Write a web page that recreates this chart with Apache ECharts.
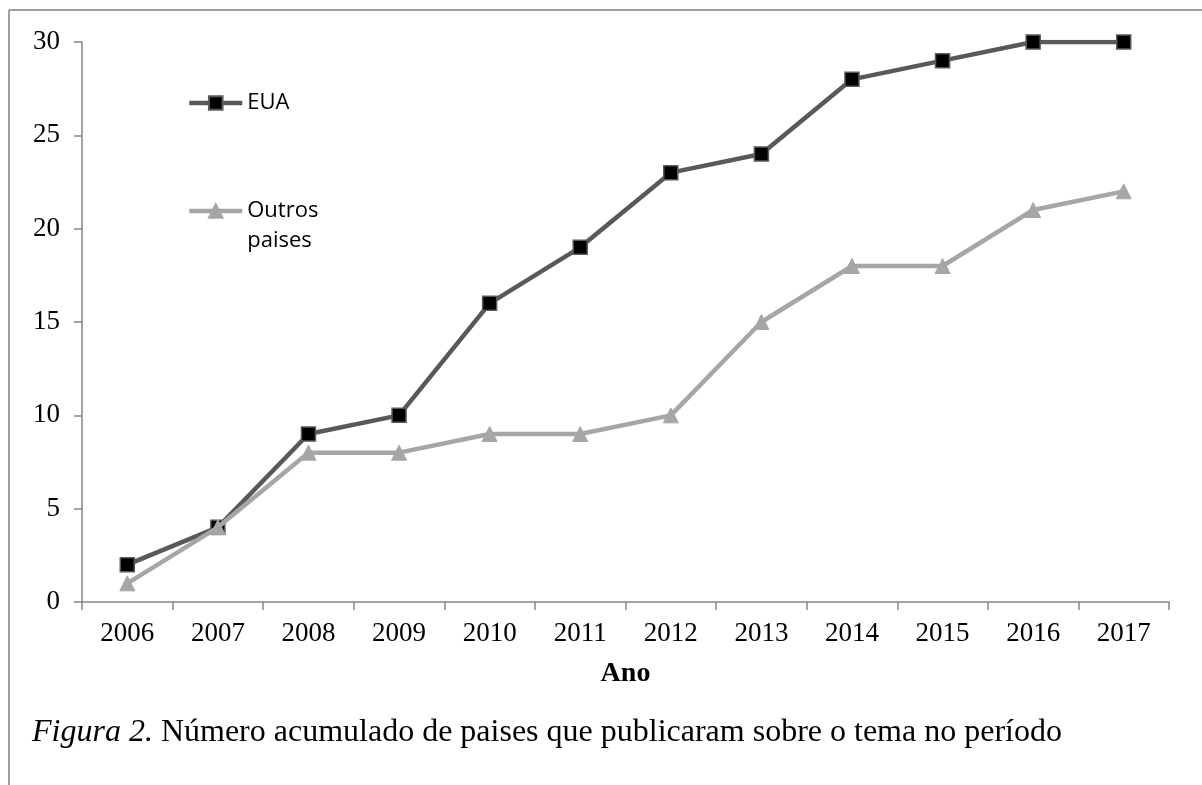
<!DOCTYPE html>
<html><head><meta charset="utf-8">
<script src="https://cdn.jsdelivr.net/npm/echarts@6/dist/echarts.min.js"></script>
<style>html,body{margin:0;padding:0;background:#fff}#c{width:1202px;height:785px}</style>
</head><body><div id="c"></div>
<script>
var categories = ['2006','2007','2008','2009','2010','2011','2012','2013','2014','2015','2016','2017'];
var euaValues = [2, 4, 9, 10, 16, 19, 23, 24, 28, 29, 30, 30];
var outrosValues = [1, 4, 8, 8, 9, 9, 10, 15, 18, 18, 21, 22];
var yTicks = [0, 5, 10, 15, 20, 25, 30];
var seriesNames = ['EUA', 'Outros paises'];
var xAxisTitle = 'Ano';
var captionItalic = 'Figura 2.';
var captionText = ' Número acumulado de paises que publicaram sobre o tema no período';

var chart = echarts.init(document.getElementById('c'), null, {renderer: 'canvas'});
var serif = '"Liberation Serif", "DejaVu Serif", serif';
var sans = '"Open Sans", "Liberation Sans", sans-serif';
chart.setOption({
  animation: false,
  backgroundColor: '#fff',
  grid: {left: 82, right: 33, top: 42, bottom: 183, containLabel: false},
  title: {
    text: '{i|' + captionItalic + '}{n|' + captionText + '}',
    left: 27, top: 712,
    textStyle: {
      fontWeight: 'normal',
      rich: {
        i: {fontFamily: serif, fontSize: 32, fontStyle: 'italic', fontWeight: 'normal', color: '#000'},
        n: {fontFamily: serif, fontSize: 32, fontWeight: 'normal', color: '#000'}
      }
    }
  },
  legend: [{
    data: [seriesNames[0]],
    left: 182, top: 83, orient: 'vertical',
    itemWidth: 53, itemHeight: 17,
    lineStyle: {width: 4.5},
    textStyle: {fontFamily: sans, fontSize: 22, lineHeight: 30, color: '#000'}
  }, {
    data: [seriesNames[1]],
    left: 182, top: 161, orient: 'vertical',
    itemWidth: 53, itemHeight: 17,
    lineStyle: {width: 4.5},
    formatter: function (n) { return ' \n' + n.replace(' ', '\n'); },
    textStyle: {fontFamily: sans, fontSize: 22, lineHeight: 30, color: '#000'}
  }],
  xAxis: {
    type: 'category', data: categories, boundaryGap: true,
    name: xAxisTitle, nameLocation: 'middle', nameGap: 58,
    nameTextStyle: {fontFamily: serif, fontSize: 28, fontWeight: 'bold', color: '#000'},
    axisLine: {lineStyle: {color: '#868686', width: 1.5}},
    axisTick: {show: true, length: 8, alignWithLabel: false, lineStyle: {color: '#868686', width: 1.5}},
    axisLabel: {fontFamily: serif, fontSize: 27, color: '#000', margin: 18, interval: 0}
  },
  yAxis: {
    type: 'value', min: yTicks[0], max: yTicks[yTicks.length - 1], interval: 5,
    axisLine: {show: true, lineStyle: {color: '#868686', width: 1.5}},
    axisTick: {show: true, length: 8, lineStyle: {color: '#868686', width: 1.5}},
    splitLine: {show: false},
    axisLabel: {fontFamily: serif, fontSize: 27, color: '#000', margin: 22}
  },
  series: [{
    name: seriesNames[0], type: 'line', data: euaValues,
    symbol: 'rect', symbolSize: 14,
    lineStyle: {color: '#595959', width: 4.5},
    itemStyle: {color: '#000', borderColor: '#595959', borderWidth: 1.5},
    z: 3
  }, {
    name: seriesNames[1], type: 'line', data: outrosValues,
    symbol: 'triangle', symbolSize: 15,
    lineStyle: {color: '#a6a6a6', width: 4.5},
    itemStyle: {color: '#a6a6a6', borderColor: '#a6a6a6', borderWidth: 1},
    z: 4
  }],
  graphic: [
    {type: 'line', shape: {x1: 9, y1: 10, x2: 9, y2: 785}, style: {stroke: '#7f7f7f', lineWidth: 1.5}},
    {type: 'line', shape: {x1: 9, y1: 10, x2: 1202, y2: 10}, style: {stroke: '#7f7f7f', lineWidth: 1.5}}
  ]
});
</script></body></html>
